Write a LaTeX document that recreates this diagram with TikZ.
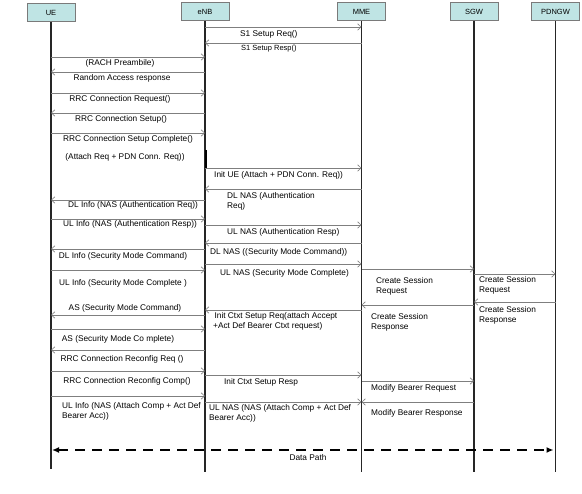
\documentclass[tikz,border=0pt]{standalone}
\usepackage{fontspec}
\setmainfont{Liberation Sans}
\usetikzlibrary{arrows.meta}

\definecolor{boxfill}{HTML}{BFE4E4}
\definecolor{boxline}{HTML}{7A7A7A}
\definecolor{msgline}{HTML}{7F7F7F}

\tikzset{
  entity/.style={draw=boxline, fill=boxfill, minimum width=48pt, minimum height=18pt,
    inner sep=0pt, font=\fontsize{7.5}{9}\selectfont},
  lifeline/.style={draw=black!85, line width=1.2pt},
  msg/.style={draw=msgline, line width=0.8pt,
    -{Straight Barb[length=3.5pt,width=6.5pt,line width=0.6pt]}},
  lbl/.style={inner sep=0pt, font=\fontsize{8.3}{10}\selectfont, align=left},
  datapath/.style={draw=black, line width=2pt, dash pattern=on 10pt off 7pt,
    {Latex[length=7pt,width=6pt]}-{Latex[length=7pt,width=6pt]}},
}

\begin{document}
\begin{tikzpicture}[x=1pt, y=-1pt]
  \useasboundingbox (0,0) rectangle (582,494);

  % entities
  \node[entity] (ue) at (51, 12.5) {UE};
  \node[entity] (enb) at (205, 11.5) {eNB};
  \node[entity] (mme) at (361.5, 11.5) {MME};
  \node[entity] (sgw) at (474, 11.5) {SGW};
  \node[entity] (pdngw) at (555.5, 11.5) {PDNGW};

  % lifelines
  \draw[lifeline] (ue.south) -- (ue |- 0,469);
  \draw[lifeline] (enb.south) -- (enb |- 0,472);
  \draw[lifeline] (mme.south) -- (mme |- 0,472);
  \draw[lifeline] (sgw.south) -- (sgw |- 0,472);
  \draw[lifeline] (pdngw.south) -- (pdngw |- 0,472);
  \draw[line width=2pt] ([xshift=0.6pt]enb |- 0,150) -- ([xshift=0.6pt]enb |- 0,168);

  % S1 setup
  \draw[msg] (enb |- 0,27) -- (mme |- 0,27);
  \node[lbl, anchor=west] (s1req) at (240,34) {S1 Setup Req()};
  \draw[msg] (mme |- 0,43) -- (enb |- 0,43);
  \node[lbl, anchor=west, font=\fontsize{7.5}{9}\selectfont] (s1resp) at (241,49) {S1 Setup Resp()};

  % random access and RRC connection
  \draw[msg] (ue |- 0,57) -- (enb |- 0,57);
  \node[lbl] (rach) at (120,63) {(RACH Preambile)};
  \draw[msg] (enb |- 0,72) -- (ue |- 0,72);
  \node[lbl] (rar) at (122,78) {Random Access response};
  \draw[msg] (ue |- 0,93) -- (enb |- 0,93);
  \node[lbl] (rrcreq) at (120,99) {RRC Connection Request()};
  \draw[msg] (enb |- 0,113) -- (ue |- 0,113);
  \node[lbl] (rrcsetup) at (121,119) {RRC Connection Setup()};
  \draw[msg] (ue |- 0,133) -- (enb |- 0,133);
  \node[lbl] (rrccmp) at (128,139) {RRC Connection Setup Complete()};
  \node[lbl] (attreq) at (125,157) {(Attach Req + PDN Conn. Req))};

  % initial UE message
  \draw[msg] (enb |- 0,168) -- (mme |- 0,168);
  \node[lbl, anchor=west] (initue) at (214,175) {Init UE (Attach + PDN Conn. Req))};

  % authentication
  \draw[msg] (mme |- 0,189) -- (enb |- 0,189);
  \node[lbl, anchor=north west] (dlnasauth) at (227,192) {DL NAS (Authentication\\Req)};
  \draw[msg] (enb |- 0,200) -- (ue |- 0,200);
  \node[lbl] (dlinfoauth) at (133,205) {DL Info (NAS (Authentication Req))};
  \draw[msg] (ue |- 0,219) -- (enb |- 0,219);
  \node[lbl] (ulinfoauth) at (130,224) {UL Info (NAS (Authentication Resp))};
  \draw[msg] (enb |- 0,225) -- (mme |- 0,225);
  \node[lbl, anchor=west] (ulnasauth) at (227,232) {UL NAS (Authentication Resp)};

  % security mode
  \draw[msg] (mme |- 0,243) -- (enb |- 0,243);
  \node[lbl, anchor=west] (dlnassmc) at (210,252) {DL NAS ((Security Mode Command))};
  \draw[msg] (enb |- 0,249) -- (ue |- 0,249);
  \node[lbl] (dlinfosmc) at (123,256) {DL Info (Security Mode Command)};
  \draw[msg] (enb |- 0,264) -- (mme |- 0,264);
  \node[lbl, anchor=west] (ulnassmc) at (220,273) {UL NAS (Security Mode Complete)};
  \draw[msg] (ue |- 0,270) -- (enb |- 0,270);
  \node[lbl] (ulinfosmc) at (123,283) {UL Info (Security Mode Complete )};

  % session creation
  \draw[msg] (mme |- 0,269) -- (sgw |- 0,269);
  \node[lbl, anchor=north west] (csreq1) at (376,277) {Create Session\\Request};
  \draw[msg] (sgw |- 0,274) -- (pdngw |- 0,274);
  \node[lbl, anchor=north west] (csreq2) at (479,276) {Create Session\\Request};
  \draw[msg] (pdngw |- 0,302) -- (sgw |- 0,302);
  \node[lbl, anchor=north west] (csresp2) at (479,306) {Create Session\\Response};
  \draw[msg] (sgw |- 0,305) -- (mme |- 0,305);
  \node[lbl, anchor=north west] (csresp1) at (371,313) {Create Session\\Response};

  % context setup
  \draw[msg] (mme |- 0,310) -- (enb |- 0,310);
  \node[lbl, anchor=north west] (ctxtreq) at (213,312) {\,Init Ctxt Setup Req(attach Accept\\+Act Def Bearer Ctxt request)};
  \draw[msg] (enb |- 0,315) -- (ue |- 0,315);
  \node[lbl] (assmc) at (125,308) {AS (Security Mode Command)};
  \draw[msg] (ue |- 0,329) -- (enb |- 0,329);
  \node[lbl] (assmcmp) at (118,339) {AS (Security Mode Co mplete)};
  \draw[msg] (enb |- 0,350) -- (ue |- 0,350);
  \node[lbl] (reconfreq) at (122,359) {RRC Connection Reconfig Req ()};
  \draw[msg] (ue |- 0,371) -- (enb |- 0,371);
  \node[lbl] (reconfcmp) at (127,381) {RRC Connection Reconfig Comp()};
  \draw[msg] (enb |- 0,375) -- (mme |- 0,375);
  \node[lbl] (ctxtresp) at (261,382) {Init Ctxt Setup Resp};

  % bearer modification
  \draw[msg] (mme |- 0,381) -- (sgw |- 0,381);
  \node[lbl, anchor=west] (mbreq) at (371,388) {Modify Bearer Request};
  \draw[msg] (ue |- 0,396) -- (enb |- 0,396);
  \node[lbl, anchor=north west] (ulinfoatt) at (62,402) {UL Info (NAS (Attach Comp + Act Def\\Bearer Acc))};
  \draw[msg] (sgw |- 0,402) -- (mme |- 0,402);
  \node[lbl, anchor=west] (mbresp) at (371,413) {Modify Bearer Response};
  \draw[msg] (enb |- 0,402) -- (mme |- 0,402);
  \node[lbl, anchor=north west] (ulnasatt) at (209,404) {UL NAS (NAS (Attach Comp + Act Def\\Bearer Acc))};

  % data path
  \draw[datapath] ([xshift=1pt]ue |- 0,450) -- ([xshift=-2pt]pdngw |- 0,450);
  \node[lbl] (data) at (308,458) {Data Path};
\end{tikzpicture}
\end{document}
